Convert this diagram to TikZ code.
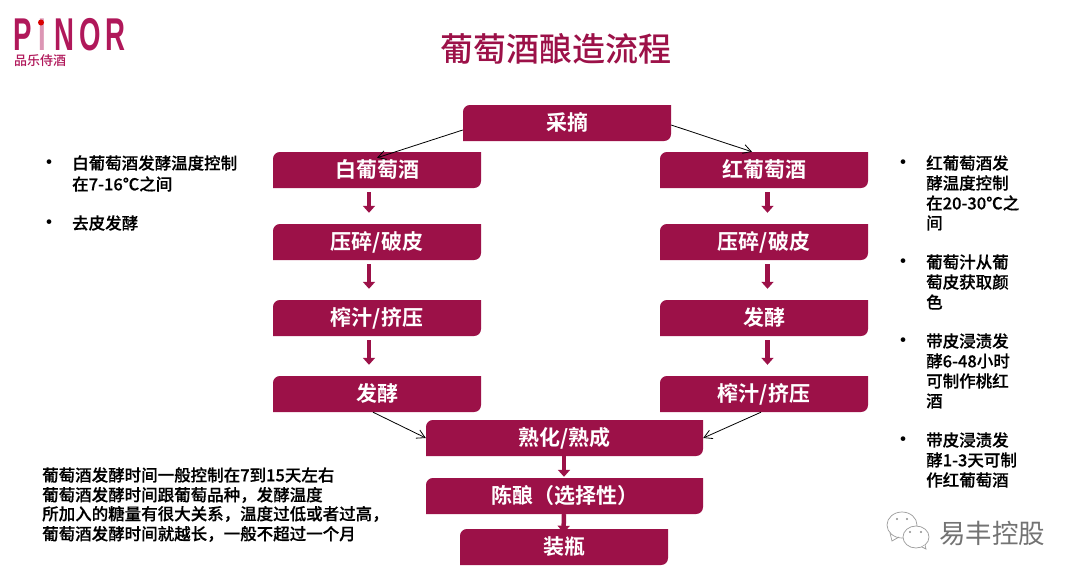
\documentclass[tikz,border=0pt]{standalone}
\usepackage{fontspec}
\setmainfont{Noto Sans CJK SC}
\newfontfamily\cjkmed{Noto Sans CJK SC Medium}
\newfontfamily\cjknote[FakeBold=0.35]{Noto Sans CJK SC Medium}
\newfontfamily\cjkbold{Noto Sans CJK SC Bold}
\newfontfamily\logofont{Liberation Sans}
\usetikzlibrary{arrows.meta,calc}
\definecolor{wine}{HTML}{9C1148}
\definecolor{logowine}{HTML}{B0185A}
\tikzset{
  boxlabel/.style={text=white,font=\cjkbold\fontsize{21}{24}\selectfont,inner sep=0pt},
  thick arrow/.style={draw=wine,line width=4.5pt,-{Triangle[width=12pt,length=7pt]}},
  thin arrow/.style={draw=black,line width=0.8pt,-{Straight Barb[length=8pt,width=9pt]}},
  note/.style={anchor=west,inner sep=0pt,font=\cjknote\fontsize{16.5}{20}\selectfont,text=black},
  bullet mark/.style={anchor=center,inner sep=0pt,font=\fontsize{22}{24}\selectfont,text=black},
}
% box with rounded top-left and bottom-right corners; named node on top
\newcommand{\flowbox}[6]{%
  \fill[wine] (#2,#5) -- (#2,#3+7) .. controls (#2,#3+3) and (#2+3,#3) .. (#2+7,#3) -- (#4,#3) -- (#4,#5-7) .. controls (#4,#5-3) and (#4-3,#5) .. (#4-7,#5) -- cycle;
  \node[boxlabel,minimum width=#4pt-#2pt,minimum height=#5pt-#3pt] (#1) at ({(#2+#4)/2},{(#3+#5)/2}) {\raisebox{2.5pt}{#6}};
}
\begin{document}
\begin{tikzpicture}[x=1pt,y=-1pt]
\useasboundingbox (0,0) rectangle (1080,581);
% logo
\node[inner sep=0pt,anchor=base west,text=logowine,font=\logofont\bfseries\fontsize{46}{46}\selectfont,xscale=0.6] (logo) at (13,50) {P\kern 12pt\textcolor{logowine!45}{I}\kern 14pt N\kern 8pt O\kern 8pt R};
\fill[red!85!black] (41,22.5) circle (3pt);
\node[inner sep=0pt,anchor=west,text=logowine,font=\cjkmed\fontsize{13}{15}\selectfont] (logocn) at (14,61) {品乐侍酒};
% title
\node[inner sep=0pt,text=wine,font=\cjkmed\fontsize{33}{38}\selectfont] (title) at (556,49) {葡萄酒酿造流程};
% boxes
\flowbox{pick}{463}{105}{671}{141}{采摘}
\flowbox{white}{273}{152}{481}{188}{白葡萄酒}
\flowbox{red}{660}{152}{868}{188}{红葡萄酒}
\flowbox{wa}{273}{224}{481}{260}{压碎/破皮}
\flowbox{ra}{660}{224}{868}{260}{压碎/破皮}
\flowbox{wb}{273}{300}{481}{336}{榨汁/挤压}
\flowbox{rb}{660}{300}{868}{336}{发酵}
\flowbox{wc}{273}{376}{481}{412}{发酵}
\flowbox{rc}{660}{376}{868}{412}{榨汁/挤压}
\flowbox{age}{426}{420}{703}{456}{熟化/熟成}
\flowbox{cellar}{426}{478}{703}{514}{陈酿（选择性）}
\flowbox{bottle}{460}{529}{668}{565}{装瓶}
% connectors
\draw[thin arrow] ([yshift=-7pt]pick.west) -- ([yshift=-6pt]white.north);
\draw[thin arrow] ([yshift=-2pt]pick.east) -- ([xshift=-12pt]red.north);
\foreach \a/\b in {white/wa,wa/wb,wb/wc}
  \draw[thick arrow] ([xshift=-8pt,yshift=-4pt]\a.south) -- ([xshift=-8pt,yshift=11pt]\b.north);
\foreach \a/\b in {red/ra,ra/rb,rb/rc}
  \draw[thick arrow] ([xshift=3.5pt,yshift=-4pt]\a.south) -- ([xshift=3.5pt,yshift=11pt]\b.north);
\draw[thin arrow] ([xshift=-4pt]wc.south) -- (age.west);
\draw[thin arrow] ([xshift=-3pt]rc.south) -- (age.east);
\draw[thick arrow] ([xshift=-0.5pt]age.south) -- ([xshift=-0.5pt,yshift=1pt]cellar.north);
\draw[thick arrow] ([xshift=-0.5pt]cellar.south) -- ([xshift=-0.5pt,yshift=-4pt]bottle.north);
% left notes
\node[bullet mark] (bl1) at (49,165) {•};
\node[note] (tl1) at (72,163) {白葡萄酒发酵温度控制};
\node[note] (tl2) at (72,184) {在7-16℃之间};
\node[bullet mark] (bl2) at (49,225) {•};
\node[note] (tl3) at (72,223) {去皮发酵};
% right notes
\node[bullet mark] (br1) at (903,165) {•};
\node[note] (r1) at (926,163) {红葡萄酒发};
\node[note] (r2) at (926,183) {酵温度控制};
\node[note] (r3) at (926,203) {在20-30℃之};
\node[note] (r4) at (926,223) {间};
\node[bullet mark] (br2) at (903,264) {•};
\node[note] (r5) at (926,262) {葡萄汁从葡};
\node[note] (r6) at (926,282) {萄皮获取颜};
\node[note] (r7) at (926,302) {色};
\node[bullet mark] (br3) at (903,343) {•};
\node[note] (r8) at (926,341) {带皮浸渍发};
\node[note] (r9) at (926,361) {酵6-48小时};
\node[note] (r10) at (926,381) {可制作桃红};
\node[note] (r11) at (926,401) {酒};
\node[bullet mark] (br4) at (903,442) {•};
\node[note] (r12) at (926,440) {带皮浸渍发};
\node[note] (r13) at (926,460) {酵1-3天可制};
\node[note] (r14) at (926,480) {作红葡萄酒};
% bottom-left note
\node[note] (n1) at (42,475) {葡萄酒发酵时间一般控制在7到15天左右};
\node[note] (n2) at (42,495) {葡萄酒发酵时间跟葡萄品种，发酵温度};
\node[note] (n3) at (42,514) {所加入的糖量有很大关系，温度过低或者过高，};
\node[note] (n4) at (42,534) {葡萄酒发酵时间就越长，一般不超过一个月};
% watermark
\begin{scope}[draw=black!40,line width=0.7pt,fill=white]
\draw (902,525) ellipse (15pt and 13pt);
\draw (890,533) -- (892,541) -- (899,537);
\filldraw (916,537) ellipse (13pt and 11pt);
\filldraw (922,547) -- (926,549) -- (925,545);
\fill[black!45] (897,519) circle (1.1pt) (907,519) circle (1.1pt) (910,532) circle (1.1pt) (921,532) circle (1.1pt);
\end{scope}
\node[inner sep=0pt,anchor=west,text=black!55,font=\fontsize{26.5}{28}\selectfont] (wm) at (939,533) {易丰控股};
\end{tikzpicture}
\end{document}
